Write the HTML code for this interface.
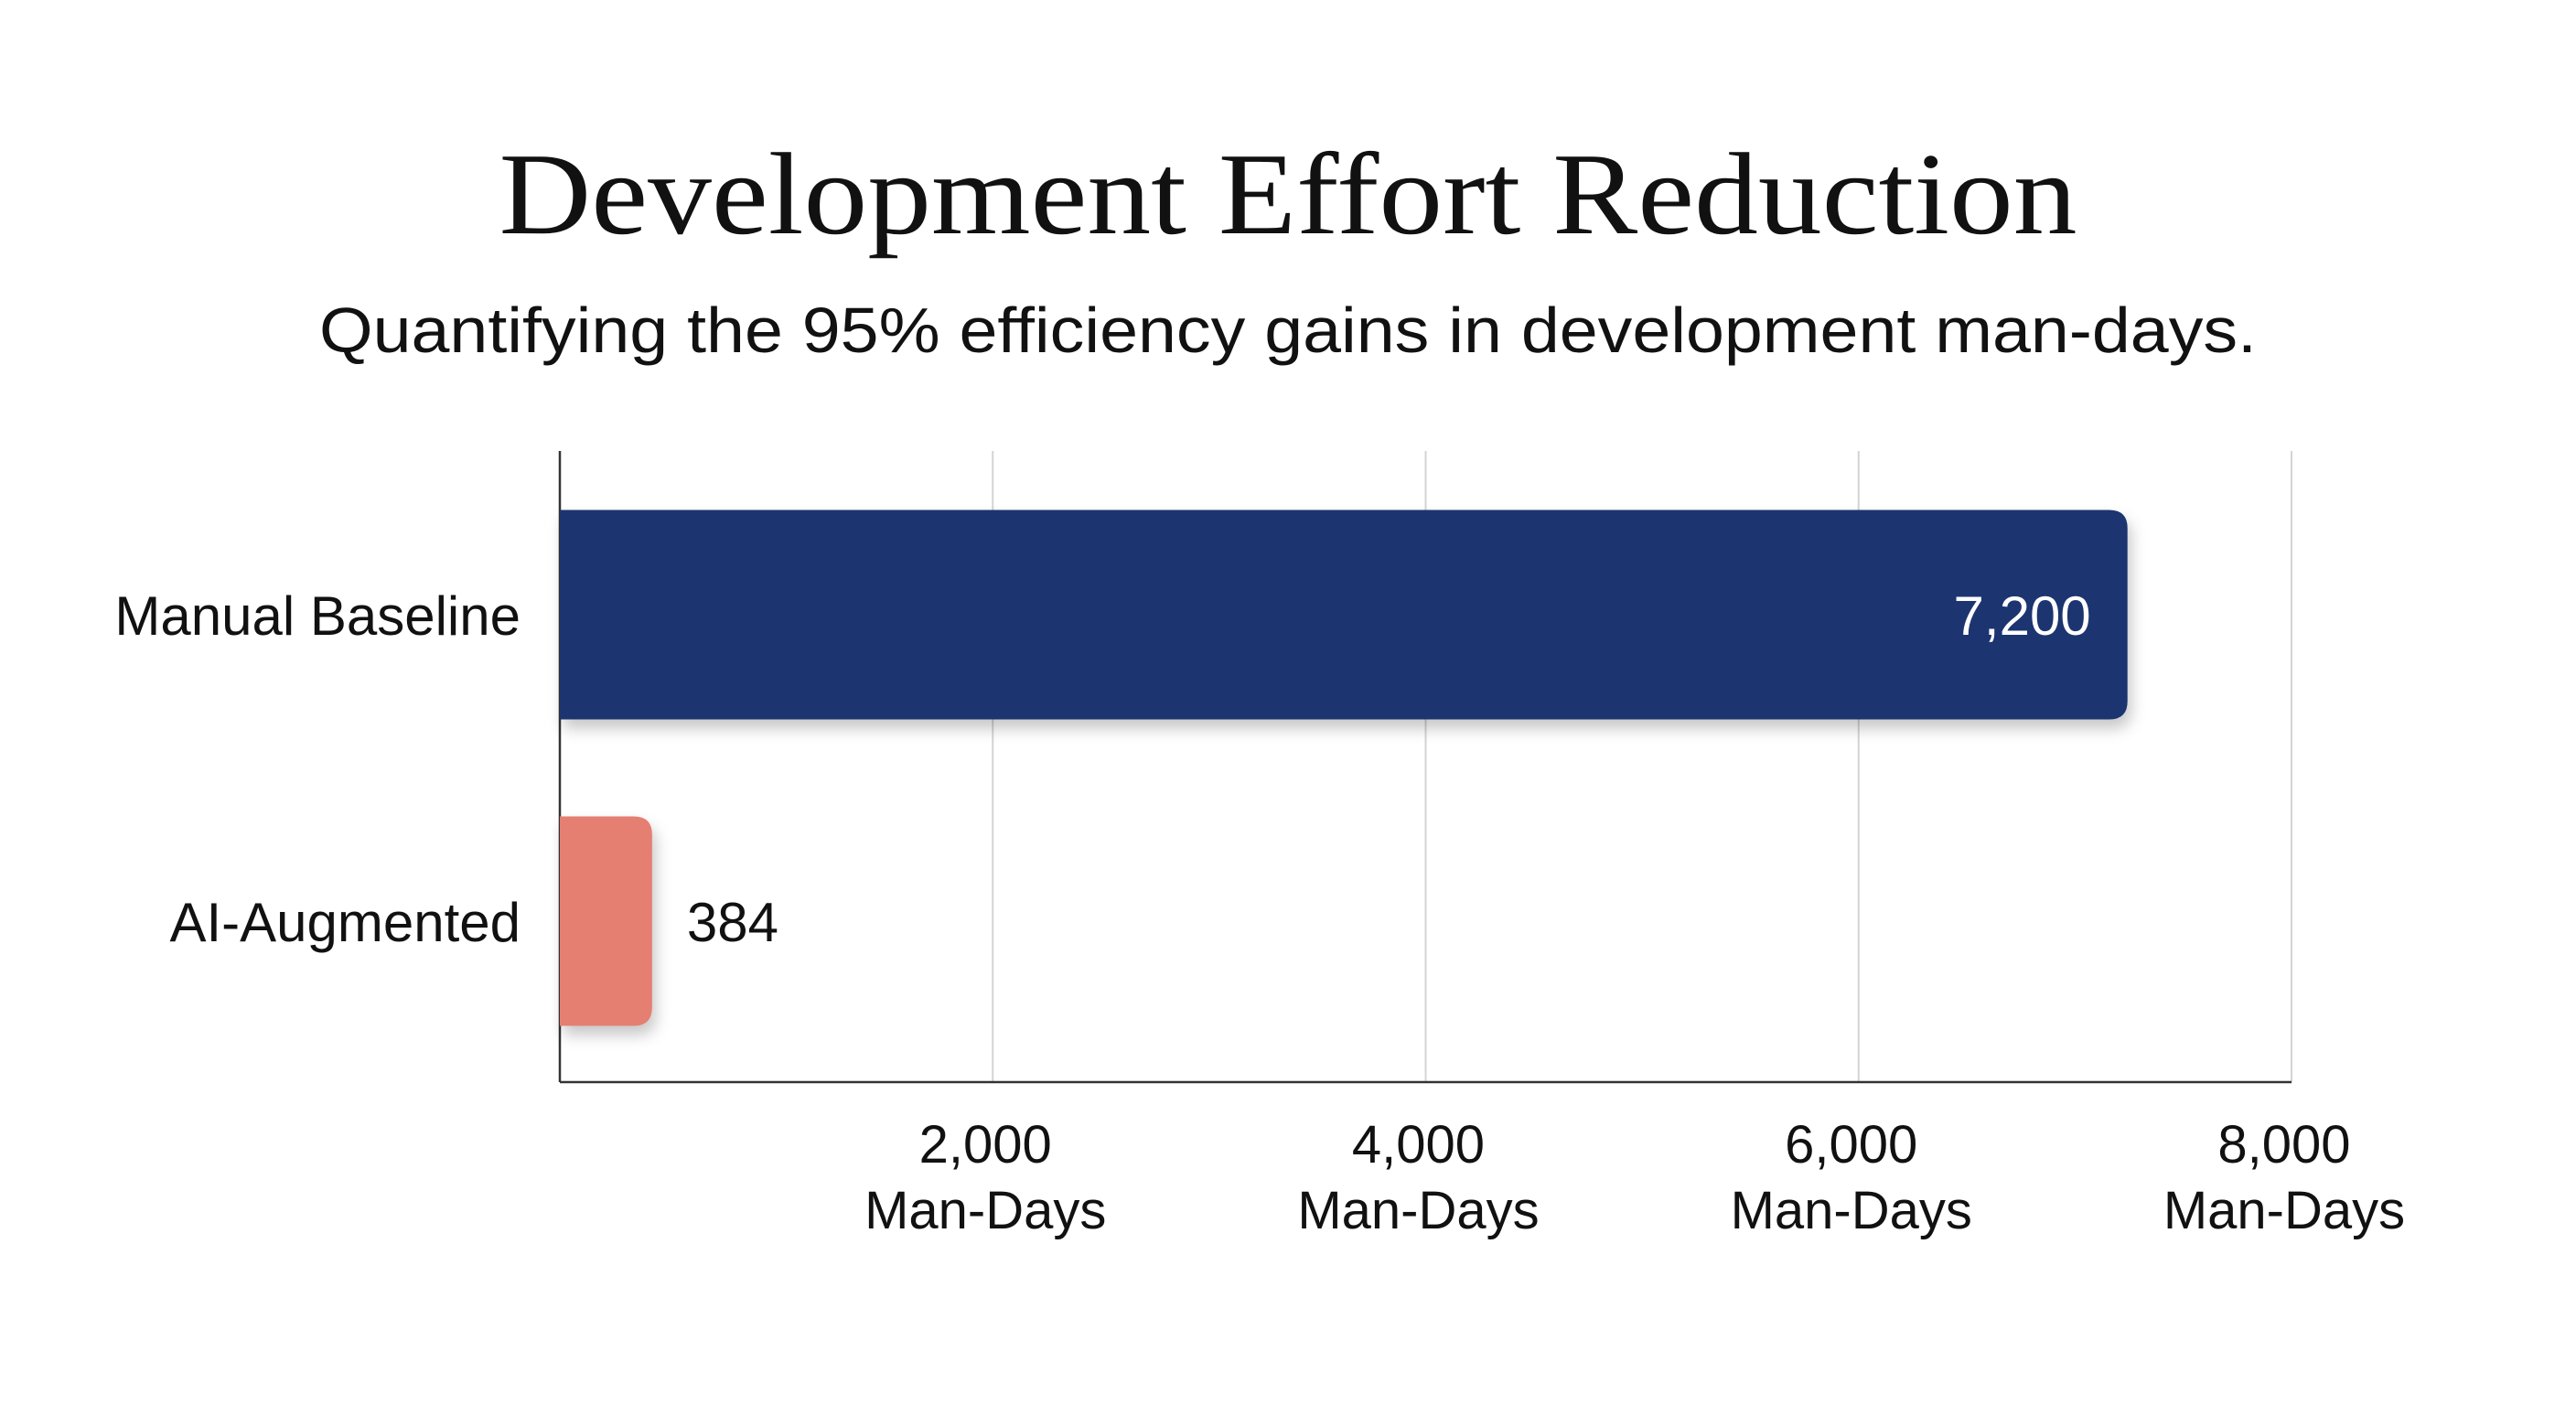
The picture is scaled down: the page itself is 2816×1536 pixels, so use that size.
<!DOCTYPE html>
<html><head><meta charset="utf-8">
<style>
html,body{margin:0;padding:0;background:#fff;}
svg{display:block;}
</style></head>
<body>
<svg id="chart" width="2816" height="1536" viewBox="0 0 2816 1536" xmlns="http://www.w3.org/2000/svg">
<defs>
<filter id="sh" x="-10%" y="-20%" width="130%" height="150%">
<feDropShadow dx="4" dy="10" stdDeviation="8" flood-color="#000" flood-opacity="0.22"/>
</filter>
</defs>
<rect width="2816" height="1536" fill="#fff"/>
<text x="1408" y="255" text-anchor="middle" font-family="'Liberation Serif',serif" font-size="128" fill="#111" textLength="1725" lengthAdjust="spacingAndGlyphs">Development Effort Reduction</text>
<text x="1408" y="385" text-anchor="middle" font-family="'Liberation Sans',sans-serif" font-size="70" fill="#111" textLength="2118" lengthAdjust="spacingAndGlyphs">Quantifying the 95% efficiency gains in development man-days.</text>
<g id="grid"></g>
<g id="bars"></g>
<g id="labels"></g>
</svg>
<script>
const categories = ["Manual Baseline", "AI-Augmented"];
const values = [7200, 384];
const valueLabels = ["7,200", "384"];
const ticks = [2000, 4000, 6000, 8000];
const tickLabels = ["2,000", "4,000", "6,000", "8,000"];
const colors = ["#1a3570", "#e57f72"];

const NS = "http://www.w3.org/2000/svg";
const x0 = 612, xMax = 8000, plotW = 2505 - 612;
const yTop = 493, yBottom = 1183;
const barCenters = [672, 1007], barH = 229;
function xs(v){ return x0 + v / xMax * plotW; }
function mk(tag, attrs, parent){ const e = document.createElementNS(NS, tag); for (const k in attrs) e.setAttribute(k, attrs[k]); parent.appendChild(e); return e; }

const grid = document.getElementById('grid');
const bars = document.getElementById('bars');
const labels = document.getElementById('labels');

ticks.forEach((t, i) => {
  const gx = xs(t);
  const gl = mk('line', {x1: gx, x2: gx, y1: yTop, y2: yBottom, stroke: '#d4d4d4', 'stroke-width': 2}, grid);
  
  
  const tl = mk('text', {x: gx - 8, y: 1271, 'text-anchor': 'middle', 'font-family': "'Liberation Sans',sans-serif", 'font-size': 58, fill: '#111'}, labels);
  tl.textContent = tickLabels[i];
  
  
  const tu = mk('text', {x: gx - 8, y: 1343, 'text-anchor': 'middle', 'font-family': "'Liberation Sans',sans-serif", 'font-size': 58, fill: '#111'}, labels);
  tu.textContent = "Man-Days";
  
  
});
const ya = mk('line', {x1: x0, x2: x0, y1: yTop, y2: yBottom, stroke: '#333', 'stroke-width': 2.5}, grid);


const xa = mk('line', {x1: x0, x2: xs(xMax), y1: yBottom, y2: yBottom, stroke: '#333', 'stroke-width': 2.5}, grid);



categories.forEach((c, i) => {
  const cy = barCenters[i];
  const xe = Math.max(xs(values[i]) + 10, x0 + 40);
  const r = 20, top = cy - barH / 2, bot = cy + barH / 2;
  const d = `M${x0},${top} L${xe - r},${top} Q${xe},${top} ${xe},${top + r} L${xe},${bot - r} Q${xe},${bot} ${xe - r},${bot} L${x0},${bot} Z`;
  const b = mk('path', {d: d, fill: colors[i], filter: 'url(#sh)'}, bars);
  
  
  const cl = mk('text', {x: 569, y: cy + 22, 'text-anchor': 'end', 'font-family': "'Liberation Sans',sans-serif", 'font-size': 60, fill: '#111'}, labels);
  cl.textContent = c;
  
  
  const inside = i === 0;
  const vl = mk('text', {x: inside ? xe - 40 : xe + 38, y: cy + 22, 'text-anchor': inside ? 'end' : 'start', 'font-family': "'Liberation Sans',sans-serif", 'font-size': 60, fill: inside ? '#fff' : '#111'}, labels);
  vl.textContent = valueLabels[i];
  
  
});
</script>
</body></html>
